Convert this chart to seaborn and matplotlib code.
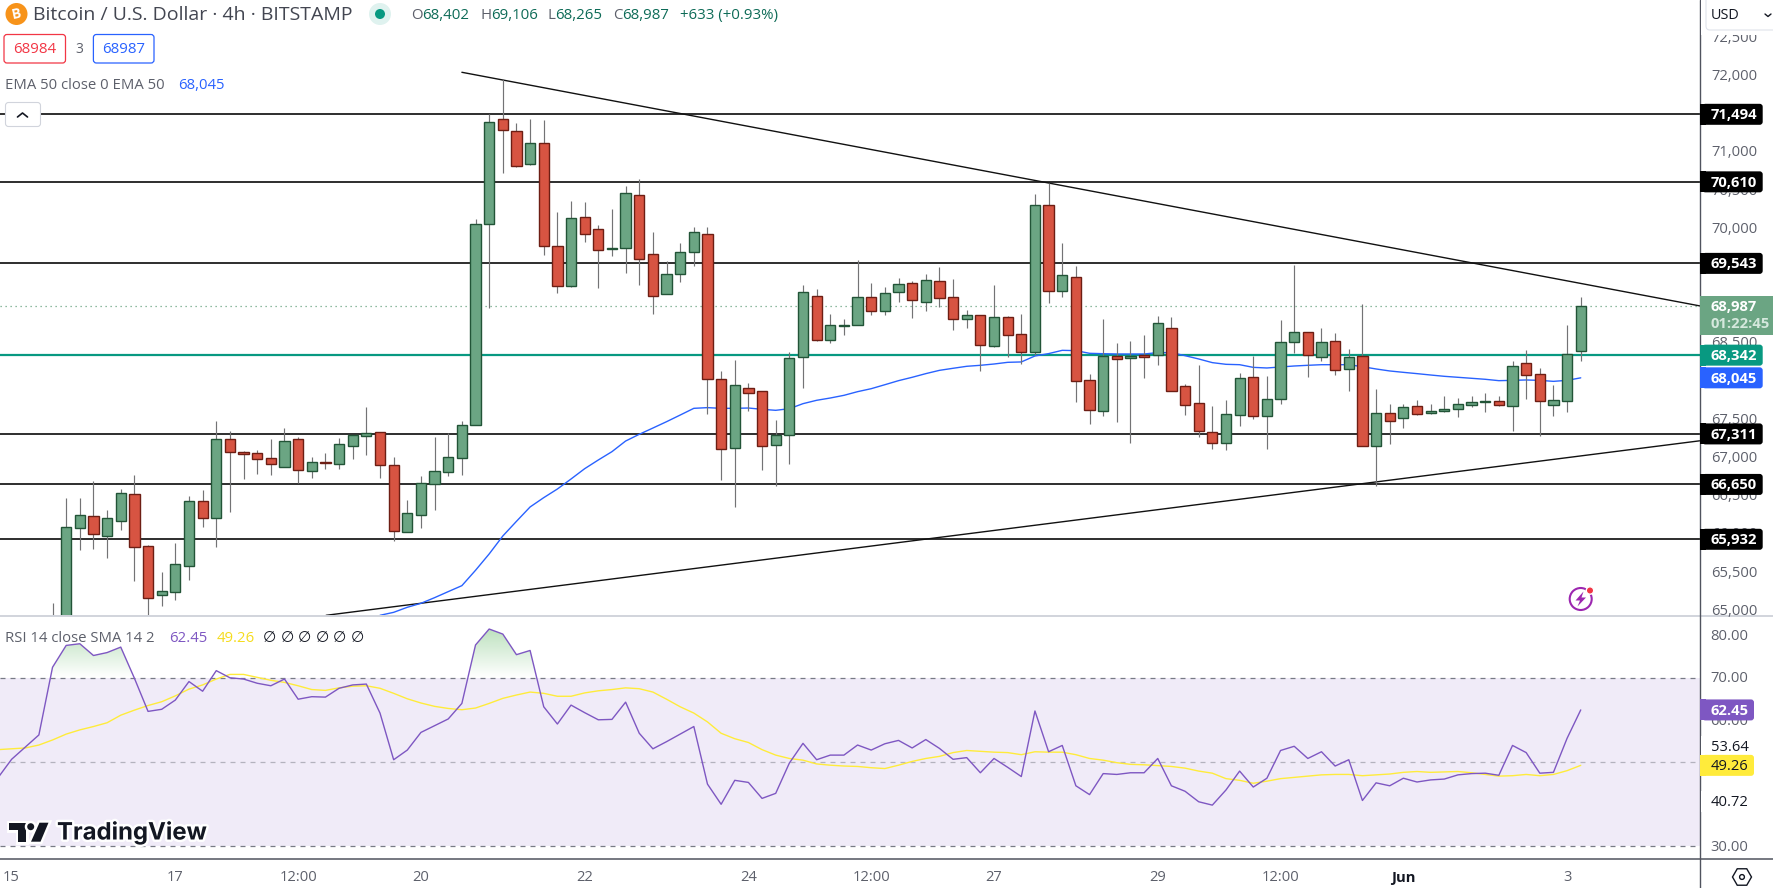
import numpy as np
import pandas as pd
import matplotlib
matplotlib.use("Agg")
import matplotlib.pyplot as plt
import matplotlib.patheffects as pe
import matplotlib.patches as mpatches
from matplotlib.path import Path
import seaborn as sns

# --- candles, first bar sits just left of the first full candle ---
opens = [64600, 64850, 66084, 66233, 65979, 66176, 66520, 65840, 65207, 65247, 65587, 66429, 66215,
         67240, 67070, 67057, 66991, 66882, 67240, 66830, 66939, 66922, 67157, 67288, 67332, 66900,
         66032, 66254, 66660, 66817, 67000, 67423, 70054, 71428, 71271, 70848, 71114, 69766, 69243,
         70145, 69988, 69727, 69740, 70433, 69661, 69147, 69400, 69688, 69923, 68025, 67122, 67908,
         67868, 67162, 67301, 68313, 69112, 68545, 68727, 68732, 69099, 68924, 69164, 69282, 69042,
         69308, 69099, 68819, 68863, 68466, 68837, 68614, 68388, 70303, 69186, 69360, 68012, 67615,
         68326, 68309, 68340, 68340, 68693, 67934, 67711, 67332, 67197, 67563, 68052, 67550, 67764,
         68510, 68641, 68322, 68523, 68165, 68326, 67149, 67581, 67515, 67672, 67581, 67607, 67633,
         67685, 67724, 67737, 67672, 68235, 68091, 67694, 67737, 68402]
highs = [65098, 66468, 66468, 66691, 66315, 66590, 66773, 65857, 65504, 65884, 66499, 66577, 67480,
         67349, 67088, 67101, 67245, 67388, 67271, 67009, 67057, 67253, 67297, 67663, 67332, 67009,
         66446, 66760, 67271, 67323, 67480, 70124, 71493, 71952, 71380, 71432, 71419, 70215, 70359,
         70346, 70045, 70250, 70556, 70643, 69954, 69570, 69805, 70015, 70015, 68130, 68278, 67977,
         67868, 67493, 68383, 69260, 69208, 68881, 68815, 69587, 69286, 69234, 69352, 69312, 69404,
         69496, 69338, 68933, 68863, 69260, 68854, 68881, 70451, 70591, 69810, 69509, 68095, 68815,
         68501, 68527, 68606, 68854, 68841, 67964, 68213, 67676, 67755, 68104, 68335, 68069, 68802,
         69522, 68641, 68697, 68632, 68422, 69011, 67899, 67703, 67703, 67755, 67703, 67807, 67781,
         67807, 67847, 67807, 68265, 68409, 68174, 67951, 68737, 69106]
lows = [64500, 64750, 65792, 65805, 65692, 66054, 65386, 64920, 65063, 65138, 65399, 66093, 65831,
        66289, 66721, 66786, 66773, 66882, 66669, 66734, 66852, 66852, 66983, 67035, 66734, 65914,
        66032, 66080, 66315, 66760, 66773, 67423, 68955, 70730, 70810, 70835, 69653, 69155, 69240,
        69827, 69225, 69640, 69421, 69260, 68885, 69147, 69304, 69513, 67572, 66708, 66359, 67615,
        66839, 66634, 66922, 67912, 68527, 68505, 68606, 68732, 68867, 68867, 69037, 68828, 68920,
        68976, 68671, 68697, 68134, 68453, 68318, 68230, 68348, 69024, 69103, 67733, 67441, 67546,
        67467, 67192, 68043, 68213, 67877, 67559, 67275, 67118, 67105, 67419, 67511, 67118, 67703,
        68375, 68056, 68270, 68087, 67873, 67149, 66634, 67184, 67388, 67560, 67567, 67593, 67532,
        67659, 67598, 67680, 67349, 67768, 67288, 67546, 67598, 68265]
closes = [64850, 66097, 66246, 66006, 66206, 66533, 65835, 65159, 65251, 65604, 66429, 66215, 67240,
          67079, 67053, 66978, 66922, 67214, 66843, 66939, 66934, 67175, 67297, 67319, 66909, 66045,
          66272, 66664, 66821, 67005, 67423, 70054, 71389, 71284, 70822, 71114, 69775, 69251, 70132,
          69932, 69714, 69740, 70460, 69596, 69112, 69400, 69688, 69949, 68025, 67109, 67947, 67842,
          67149, 67301, 68300, 69164, 68545, 68732, 68736, 69099, 68924, 69151, 69269, 69059, 69321,
          69094, 68819, 68863, 68479, 68837, 68610, 68388, 70303, 69186, 69386, 68008, 67628, 68326,
          68296, 68331, 68322, 68758, 67877, 67694, 67354, 67197, 67567, 68038, 67550, 67764, 68510,
          68641, 68340, 68510, 68152, 68313, 67149, 67581, 67476, 67659, 67567, 67607, 67633, 67698,
          67724, 67737, 67685, 68196, 68087, 67737, 67750, 68353, 68987]

# EMA 50, visible from bar 23 on
ema = [64937, 64976, 65042, 65094, 65168, 65247, 65325, 65526, 65740, 65975, 66167, 66355, 66477,
       66590, 66721, 66856, 66970, 67079, 67218, 67306, 67388, 67471, 67558, 67646, 67655, 67646,
       67646, 67650, 67633, 67620, 67641, 67707, 67751, 67781, 67816, 67864, 67903, 67955, 68008,
       68052, 68100, 68143, 68170, 68196, 68209, 68226, 68248, 68253, 68331, 68362, 68405, 68401,
       68366, 68361, 68357, 68357, 68357, 68375, 68375, 68335, 68292, 68244, 68222, 68217, 68182,
       68174, 68187, 68200, 68209, 68217, 68217, 68217, 68191, 68161, 68135, 68117, 68100, 68082,
       68065, 68052, 68039, 68026, 68008, 68012, 68017, 68012, 67999, 68012, 68045]

# RSI and its SMA, from bar -5 on
rsi = [46.3, 50.7, 53.6, 56.5, 72.6, 77.8, 78.2, 75.4, 76.1, 77.4, 70.0, 62.1, 62.6, 64.8, 69.2, 66.9,
       71.8, 70.1, 69.8, 68.8, 68.2, 69.8, 65.0, 65.6, 65.5, 67.6, 68.4, 68.6, 61.7, 50.6, 52.9, 57.1,
       58.7, 60.3, 64.0, 77.9, 81.7, 80.5, 75.6, 76.6, 63.2, 59.1, 63.6, 61.8, 60.1, 60.2, 64.3, 56.9,
       53.2, 54.9, 56.7, 58.5, 44.8, 40.0, 45.7, 45.2, 41.4, 42.6, 49.8, 54.5, 50.6, 51.7, 51.7, 54.1,
       52.9, 54.4, 55.2, 53.4, 55.4, 53.3, 50.7, 51.1, 47.5, 50.9, 48.8, 46.6, 62.2, 52.5, 54.0, 44.4,
       42.3, 47.3, 47.1, 47.5, 47.5, 50.9, 44.4, 43.1, 40.6, 39.8, 43.4, 47.9, 44.1, 46.2, 52.8, 53.8,
       50.9, 52.5, 49.1, 50.6, 40.9, 45.1, 44.4, 46.2, 45.3, 45.8, 46.0, 47.0, 47.3, 47.4, 46.9, 54.0,
       52.3, 47.4, 47.6, 55.7, 62.45]
rsi_sma = [53.0, 53.2, 53.4, 54.1, 55.3, 56.7, 57.7, 58.5, 59.4, 61.2, 62.4, 63.5, 64.4, 65.8, 67.4,
           68.4, 69.8, 70.9, 70.9, 70.2, 69.5, 69.0, 68.2, 67.3, 67.1, 67.7, 68.1, 68.2, 67.6, 66.4,
           65.1, 64.1, 63.3, 62.8, 62.5, 62.9, 64.0, 65.2, 66.0, 66.7, 66.4, 65.7, 65.7, 66.5, 67.0,
           67.3, 67.7, 67.5, 66.7, 65.0, 63.2, 61.7, 59.6, 56.9, 55.6, 54.7, 53.0, 51.7, 50.9, 50.5,
           49.6, 49.3, 49.1, 49.0, 48.7, 48.5, 49.3, 50.2, 50.9, 51.4, 52.3, 52.8, 52.6, 52.4, 52.3,
           51.8, 52.5, 52.4, 52.4, 51.8, 50.9, 50.5, 49.9, 49.5, 49.4, 49.2, 49.0, 48.6, 47.9, 47.4,
           46.1, 45.7, 45.0, 45.5, 46.1, 46.4, 46.7, 47.0, 47.1, 47.1, 46.8, 47.0, 47.2, 47.6, 47.8,
           47.6, 47.7, 47.8, 47.5, 47.1, 46.7, 46.8, 47.1, 46.8, 47.1, 48.0, 49.26]

levels = [71494, 70610, 69543, 67311, 66650, 65932]
pivot_level = 68342
last_price = 68987
last_ema = 68045
# ticks that sit fully behind a price tag are left out
price_ticks = [65000, 65500, 66000, 66500, 67000, 67500, 68500, 70000, 70500, 71000, 72000, 72500]
rsi_ticks = [80, 70, 60, 30]

time_pos = [-4, 8, 17, 26, 38, 50, 59, 68, 80, 89, 98, 110]
time_labels = ["15", "17", "12:00", "20", "22", "24", "12:00", "27", "29", "12:00", "Jun", "3"]

# trend lines, (bar, price) at both ends
upper_trend = ([29.0, 119.77], [72044, 68985])
lower_trend = ([19.05, 119.77], [64937, 67222])

UP, UP_EDGE = "#6BA583", "#225437"
DOWN, DOWN_EDGE = "#D75442", "#6D1E14"
WICK = "#737375"
TEXT = "#5D606B"
PURPLE = "#7E57C2"
YELLOW = "#FFEB3B"
BLUE = "#2962FF"
TEAL = "#089981"

sns.set_theme(style="white")
FONT = "Open Sans"
plt.rcParams["font.family"] = [FONT, "DejaVu Sans"]

W, H = 1774, 888
fig = plt.figure(figsize=(W / 100, H / 100), dpi=100, facecolor="white")
RIGHT = 1700.4
ax = fig.add_axes([0, 1 - 616 / H, RIGHT / W, 616 / H])
ax_rsi = fig.add_axes([0, 1 - 859 / H, RIGHT / W, (859 - 616) / H])
ui = fig.add_axes([0, 0, 1, 1], zorder=10)
ui.set_xlim(0, W)
ui.set_ylim(H, 0)
ui.axis("off")
ui.patch.set_alpha(0)

xlim = (-4.85, 119.77)

# --- Price panel ---
bars = np.arange(-1, 112)
o, h, l, c = map(np.array, (opens, highs, lows, closes))
up = c >= o
ax.vlines(bars, l, h, color=WICK, lw=0.85, zorder=3)
ax.bar(bars, np.abs(c - o), bottom=np.minimum(o, c), width=0.75,
       color=np.where(up, UP, DOWN), edgecolor=np.where(up, UP_EDGE, DOWN_EDGE), linewidth=1.0, zorder=4)

for lev in levels:
    ax.axhline(lev, color="black", lw=1.15, zorder=1)
ax.axhline(pivot_level, color=TEAL, lw=1.6, zorder=1)
ax.axhline(last_price, color=UP, lw=0.9, ls=(0, (1, 3)), zorder=1)
ax.plot(*upper_trend, color="#111111", lw=1.0, zorder=2)
ax.plot(*lower_trend, color="#111111", lw=1.0, zorder=2)
sns.lineplot(x=np.arange(23, 112), y=ema, ax=ax, color=BLUE, linewidth=1.0, errorbar=None, zorder=2.5)

ax.set_xlim(*xlim)
ax.set_ylim(64928, 72990)
ax.set_xticks([])
ax.set_yticks([])
ax.set_xlabel("")
ax.set_ylabel("")
sns.despine(ax=ax, left=True, bottom=True, right=True, top=True)

# --- RSI panel ---
rsi_x = np.arange(-5, 112)
rsi_arr = np.array(rsi)
ax_rsi.axhspan(30, 70, color=PURPLE, alpha=0.115, lw=0, zorder=0)
ax_rsi.axhline(70, color="#787B86", lw=0.9, ls=(0, (4, 4)), zorder=1)
ax_rsi.axhline(30, color="#787B86", lw=0.9, ls=(0, (4, 4)), zorder=1)
ax_rsi.axhline(50, color="#787B86", lw=0.9, ls=(0, (4, 4)), alpha=0.5, zorder=1)

# overbought gradient, clipped to the area between the line and 70
over = ax_rsi.fill_between(rsi_x, 70, rsi_arr, where=rsi_arr > 70, interpolate=True, facecolor="none", lw=0)
clip_path = Path.make_compound_path(*over.get_paths())
grad = np.zeros((64, 2, 4))
grad[..., :3] = matplotlib.colors.to_rgb("#4CAF50")
grad[..., 3] = np.linspace(0.38, 0, 64)[:, None]
im = ax_rsi.imshow(grad, extent=(xlim[0], xlim[1], 70, 82), origin="upper", aspect="auto", zorder=1.5)
im.set_clip_path(mpatches.PathPatch(clip_path, transform=ax_rsi.transData))

sns.lineplot(x=rsi_x, y=rsi_sma, ax=ax_rsi, color=YELLOW, linewidth=1.0, errorbar=None, zorder=2)
sns.lineplot(x=rsi_x, y=rsi, ax=ax_rsi, color=PURPLE, linewidth=1.0, errorbar=None, zorder=3)
ax_rsi.set_xlim(*xlim)
ax_rsi.set_ylim(26.98, 84.8)
ax_rsi.set_yticks([])
ax_rsi.set_xticks([])
ax_rsi.set_xlabel("")
ax_rsi.set_ylabel("")
sns.despine(ax=ax_rsi, left=True, bottom=True, right=True, top=True)

# pixel helpers for everything around the panels
to_ui = ui.transData.inverted()
def px_y(axis, value):
    return to_ui.transform(axis.transData.transform((0, value)))[1]
def px_x(axis, value):
    return to_ui.transform(axis.transData.transform((value, 0)))[0]

# --- frame lines ---
ui.plot([0, W], [616, 616], color="#D1D4DC", lw=1.4, zorder=1)
ui.plot([0, W], [859, 859], color="#50535E", lw=1.1, zorder=1)
ui.plot([RIGHT, RIGHT], [0, H], color="#50535E", lw=1.0, zorder=1)

# --- axis labels ---
AXIS_FS = 10.6
DY = 0.8
for p in price_ticks:
    ui.text(1711, px_y(ax, p) + DY, f"{p:,}", color=TEXT, fontsize=AXIS_FS, va="center", ha="left", zorder=2)
for r in rsi_ticks:
    ui.text(1710, px_y(ax_rsi, r) + DY, f"{r:.2f}", color=TEXT, fontsize=AXIS_FS, va="center", ha="left", zorder=2)
for pos, lab in zip(time_pos, time_labels):
    ui.text(px_x(ax_rsi, pos), 877.5, lab, color="#131722" if lab == "Jun" else TEXT, fontsize=AXIS_FS,
            ha="center", va="center", fontweight="bold" if lab == "Jun" else "normal", zorder=2)

def tag(yc, text, bg, fg="white", x1=1762.7, height=21, weight="bold"):
    box = mpatches.FancyBboxPatch((RIGHT + 2, yc - height / 2), x1 - RIGHT - 2, height,
                                  boxstyle="round,pad=0,rounding_size=3", fc=bg, ec="none", zorder=3)
    ui.add_patch(box)
    ui.add_patch(mpatches.Rectangle((RIGHT, yc - height / 2), 6, height, fc=bg, ec="none", zorder=3))
    ui.text(1711, yc + DY, text, color=fg, fontsize=AXIS_FS, fontweight=weight, va="center", ha="left", zorder=4)

for lev in levels:
    tag(px_y(ax, lev), f"{lev:,}", "black")
tag(px_y(ax, pivot_level), f"{pivot_level:,}", TEAL)
tag(px_y(ax, last_ema), f"{last_ema:,}", BLUE)

# current price tag with countdown
ui.add_patch(mpatches.Rectangle((RIGHT, 296), W - RIGHT, 39, fc=UP, ec="none", zorder=3))
ui.text(1711, 306.5, f"{last_price:,}", color="white", fontsize=AXIS_FS, fontweight="bold", va="center", zorder=4)
ui.text(1711, 324, "01:22:45", color="#D5E8DD", fontsize=AXIS_FS, fontweight="bold", va="center", zorder=4)

# RSI side tags
tag(px_y(ax_rsi, 62.45), "62.45", PURPLE, x1=1754)
tag(px_y(ax_rsi, 49.26), "49.26", YELLOW, fg="#131722", x1=1754, weight="normal")
for v in (53.64, 40.72):
    yc = px_y(ax_rsi, v)
    ui.add_patch(mpatches.Rectangle((RIGHT + 1, yc - 10.5), 54, 21, fc="white", ec="none", zorder=2.5))
    ui.text(1711, yc + DY, f"{v:.2f}", color="#131722", fontsize=AXIS_FS, va="center", zorder=4)

# currency selector
ui.add_patch(mpatches.Rectangle((RIGHT + 1, 0), W - RIGHT, 35, fc="white", ec="none", zorder=2.5))
ui.add_patch(mpatches.FancyBboxPatch((1706, -6), 80, 36, boxstyle="round,pad=0,rounding_size=4",
                                     fc="white", ec="#E0E3EB", lw=0.8, zorder=3))
ui.text(1711, 15.5, "USD", color="#131722", fontsize=10.4, va="center", zorder=4)
ui.plot([1765, 1768, 1771], [14, 16.5, 14], color="#131722", lw=1.0, zorder=4)

# --- header ---
ui.add_patch(mpatches.Circle((16.5, 14), 11, fc="#F7931A", ec="none", zorder=3))
ui.text(16.5, 14, "B", color="white", fontsize=10, fontweight="bold", ha="center", va="center", rotation=12, zorder=4)
ui.text(33, 15.5, "Bitcoin / U.S. Dollar · 4h · BITSTAMP", color="#434651", fontsize=14, va="center", zorder=4)
ui.add_patch(mpatches.Circle((380, 14), 11, fc="#DFF2EF", ec="none", zorder=3))
ui.add_patch(mpatches.Circle((380, 14), 5, fc=TEAL, ec="none", zorder=4))

OHLC_GREEN = "#0D6B57"
for x, letter, gap, val in [(411, "O", 11, "68,402"), (481, "H", 10.5, "69,106"),
                            (548, "L", 7.5, "68,265"), (613, "C", 9.5, "68,987")]:
    ui.text(x, 15.5, letter, color=TEXT, fontsize=10.8, va="center", zorder=4)
    ui.text(x + gap, 15.5, val, color=OHLC_GREEN, fontsize=10.8, va="center", zorder=4)
ui.text(680, 15.5, "+633 (+0.93%)", color=OHLC_GREEN, fontsize=10.8, va="center", zorder=4)

for x0, x1, col, val in [(4, 65.5, "#F23645", "68984"), (93.4, 154, BLUE, "68987")]:
    ui.add_patch(mpatches.FancyBboxPatch((x0, 34.5), x1 - x0, 28.5, boxstyle="round,pad=0,rounding_size=3",
                                         fc="white", ec=col, lw=0.9, zorder=3))
    ui.text((x0 + x1) / 2, 49.5, val, color=col, fontsize=10.8, ha="center", va="center", zorder=4)
ui.text(79.6, 49.5, "3", color=TEXT, fontsize=10, ha="center", va="center", zorder=4)

ui.text(5, 85.5, "EMA 50 close 0 EMA 50", color=TEXT, fontsize=10.7, va="center", zorder=4)
ui.text(178, 85.5, "68,045", color=BLUE, fontsize=10.7, va="center", zorder=4)

ui.add_patch(mpatches.FancyBboxPatch((5.5, 102.5), 35, 24, boxstyle="round,pad=0,rounding_size=3",
                                     fc="white", ec="#D1D4DC", lw=0.8, zorder=3))
ui.plot([17.5, 22.5, 27.5], [117, 113, 117], color="#131722", lw=1.2, zorder=4)

# RSI legend
ui.text(5, 638, "RSI 14 close SMA 14 2", color=TEXT, fontsize=10.7, va="center", zorder=4)
ui.text(169, 638, "62.45", color=PURPLE, fontsize=10.7, va="center", zorder=4)
ui.text(217, 638, "49.26", color="#F5DC1E", fontsize=10.7, va="center", zorder=4)
for x in (269, 287, 304, 322, 339, 357):
    ui.text(x, 637.5, "∅", color="#131722", fontsize=11, ha="center", va="center", zorder=4, family="DejaVu Sans")

# --- TradingView mark ---
halo = [pe.withStroke(linewidth=3.5, foreground="white")]
DARK = "#131722"
for pts in ([(9.5, 822.7), (26, 822.7), (26, 841.7), (18, 841.7), (18, 829.7), (9.5, 829.7)],
            [(39.5, 822.7), (48.5, 822.7), (40.5, 841.7), (31, 841.7)]):
    ui.add_patch(mpatches.Polygon(pts, closed=True, fc=DARK, ec="none", zorder=4, path_effects=halo))
ui.add_patch(mpatches.Circle((30.7, 826.7), 3.5, fc=DARK, ec="none", zorder=4, path_effects=halo))
ui.text(57, 833, "TradingView", color=DARK, fontsize=17.2, fontweight="bold", family="Inter",
        va="center", ha="left", zorder=4, path_effects=halo)

# --- small icons ---
ui.add_patch(mpatches.Circle((1580.7, 599), 11, fc="white", ec="#9C27B0", lw=1.5, zorder=3))
ui.add_patch(mpatches.Polygon([(1583.5, 591.5), (1575.5, 600.5), (1580, 600.5), (1577.5, 606.5), (1586, 597.5), (1581.5, 597.5)],
                              closed=True, fc="#9C27B0", ec="none", zorder=4))
ui.add_patch(mpatches.Circle((1590, 590.5), 3.7, fc="#F23645", ec="white", lw=1, zorder=5))

ui.add_patch(mpatches.RegularPolygon((1742, 877), 6, radius=9.5, orientation=np.pi / 6,
                                     fc="white", ec="#131722", lw=1.0, zorder=3))
ui.add_patch(mpatches.Circle((1742, 877), 2.4, fc="white", ec="#131722", lw=1.0, zorder=4))

fig.savefig("out.png", dpi=100)
